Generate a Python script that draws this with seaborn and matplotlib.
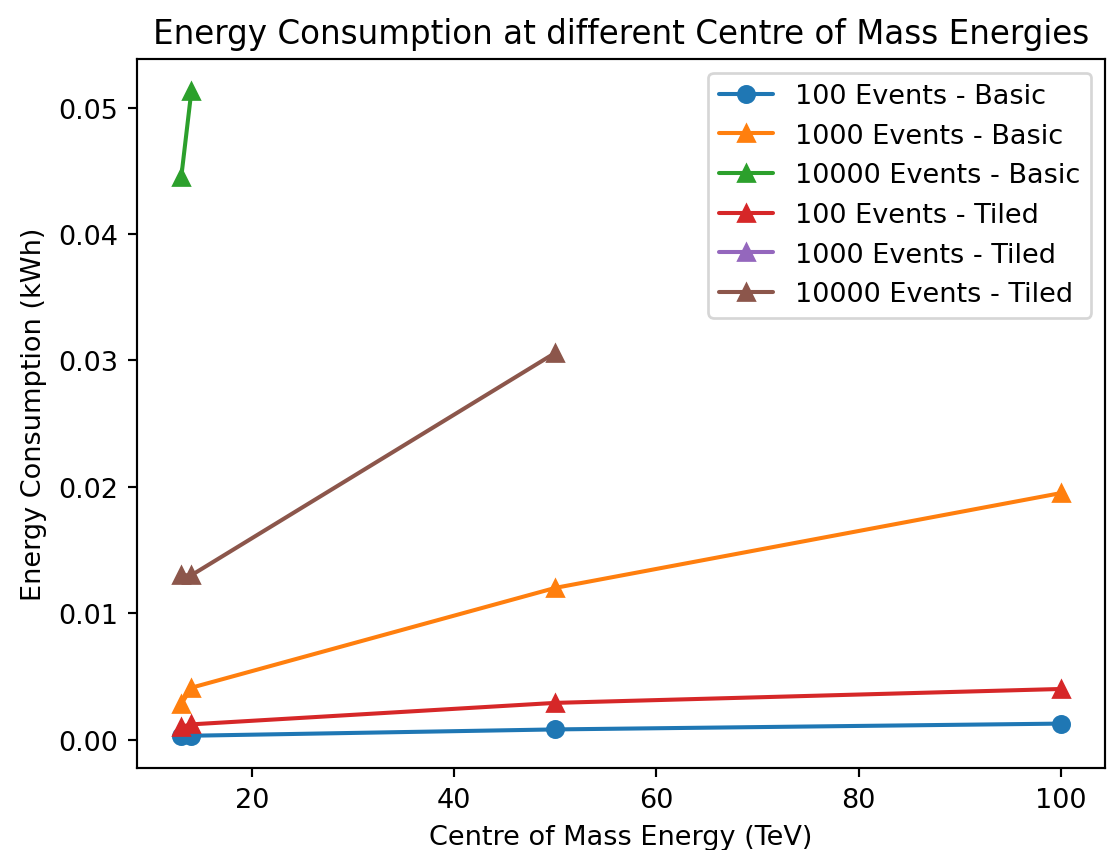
import numpy as np
import pandas as pd
import seaborn as sns
import matplotlib
matplotlib.use("Agg")
import matplotlib.pyplot as plt

# centre of mass energies (TeV)
energy_all = [13, 14, 50, 100]
energy_10k_basic = [13, 14]
energy_10k_tiled = [13, 14, 50]

# energy consumption (kWh)
basic_100 = [0.0003, 0.0003, 0.0008, 0.00126]
basic_1000 = [0.0028, 0.0041, 0.0120, 0.0195]
basic_10000 = [0.0445, 0.0513]
tiled_100 = [0.0010, 0.0012, 0.0029, 0.0040]
tiled_1000 = [np.nan, np.nan, np.nan, np.nan]  # no data shown
tiled_10000 = [0.0130, 0.0130, 0.0306]

series = [
    ("100 Events - Basic", energy_all, basic_100, "o"),
    ("1000 Events - Basic", energy_all, basic_1000, "^"),
    ("10000 Events - Basic", energy_10k_basic, basic_10000, "^"),
    ("100 Events - Tiled", energy_all, tiled_100, "^"),
    ("1000 Events - Tiled", energy_all, tiled_1000, "^"),
    ("10000 Events - Tiled", energy_10k_tiled, tiled_10000, "^"),
]

sns.set_theme(style="ticks", rc={
    "axes.grid": False,
    "text.color": "black", "axes.labelcolor": "black",
    "xtick.color": "black", "ytick.color": "black",
    "xtick.major.size": 3.5, "ytick.major.size": 3.5,
    "xtick.major.width": 0.8, "ytick.major.width": 0.8,
})
plt.rcParams['font.family'] = ['DejaVu Sans']
colors = sns.color_palette("tab10")

dpi = 195
fig, ax = plt.subplots(figsize=(1107 / dpi, 851 / dpi), dpi=dpi)
for i, (name, x, y, mk) in enumerate(series):
    df = pd.DataFrame({"x": x, "y": y})
    kw = dict(marker=mk, color=colors[i], label=name, markersize=6,
              markeredgewidth=1, markeredgecolor=colors[i], linewidth=1.5)
    if df["y"].notna().any():
        sns.lineplot(data=df, x="x", y="y", ax=ax, **kw)
    else:
        ax.plot(df["x"], df["y"], **kw)

ax.set_title("Energy Consumption at different Centre of Mass Energies", fontsize=12)
ax.set_xlabel("Centre of Mass Energy (TeV)", fontsize=10)
ax.set_ylabel("Energy Consumption (kWh)", fontsize=10)
ax.tick_params(labelsize=10)
ax.set_xticks([20, 40, 60, 80, 100])
ax.set_yticks([0.0, 0.01, 0.02, 0.03, 0.04, 0.05])
ax.set_yticklabels(["0.00", "0.01", "0.02", "0.03", "0.04", "0.05"])
for s in ax.spines.values():
    s.set_linewidth(0.8)
    s.set_color("black")
ax.legend(loc="upper right", fontsize=10)

fig.subplots_adjust(left=0.124, right=0.998, top=0.9295, bottom=0.0964)
fig.savefig("out.png", dpi=dpi)
